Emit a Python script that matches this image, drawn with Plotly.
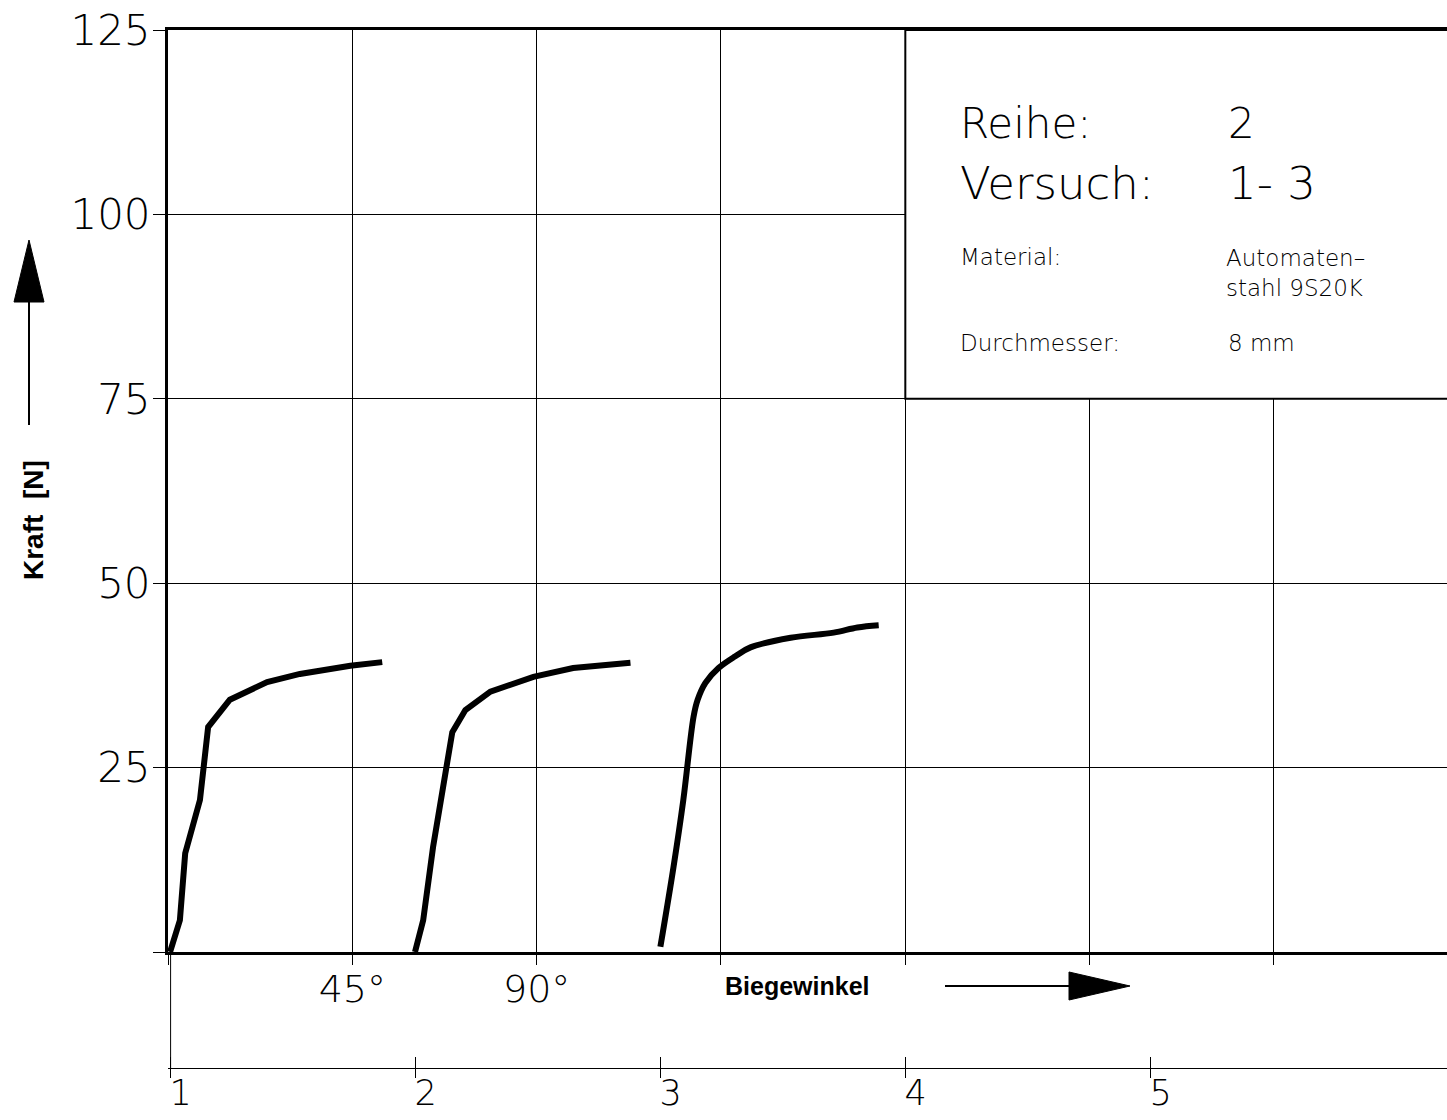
import plotly.graph_objects as go

# ---------------- data ----------------
# Bending angle [deg] and force [N] for the three tests
c1_angle = [0.5, 2.9, 4.2, 7.8, 9.8, 15.1, 24.2, 32.2, 44.5, 52.3]
c1_force = [0.0, 4.3, 13.4, 20.6, 30.5, 34.2, 36.6, 37.7, 38.8, 39.3]

c2_angle = [60.3, 62.3, 64.7, 67.2, 69.4, 72.6, 78.7, 89.2, 98.9, 112.9]
c2_force = [0.0, 4.3, 14.2, 22.0, 29.8, 32.8, 35.3, 37.3, 38.5, 39.2]

c3_angle = [120.2, 123.4, 125.8, 128.3, 129.3, 131.2, 134.4, 138.5, 142.2, 152.0, 162.5, 168.3, 173.5]
c3_force = [0.7, 11.5, 20.6, 31.9, 34.2, 36.5, 38.5, 40.1, 41.3, 42.6, 43.3, 44.0, 44.3]

angle_ticks = [0, 45, 90, 135, 180, 225, 270]
angle_labels = ["", "45°", "90°", "", "", "", ""]
force_ticks = [0, 25, 50, 75, 100, 125]
force_labels = ["", "25", "50", "75", "100", "125"]
test_ticks = [1, 2, 3, 4, 5]
test_labels = ["1", "2", "3", "4", "5"]

info_labels = ["Reihe:", "Versuch:", "Material:", "Durchmesser:"]
info_values = ["2", "1- 3", "Automaten–<br>stahl 9S20K", "8 mm"]

# ---------------- layout geometry ----------------
W, H = 1447, 1120
ML, MR, MT, MB = 168, 0, 30, 52
PW, PH = W - ML - MR, H - MT - MB


def px(x):
    return (x - ML) / PW


def py(y):
    return (H - MB - y) / PH


y_dom0 = py(952)
thin = "DejaVu Sans"
fw = 200

fig = go.Figure()
for xs, ys, shape in [(c1_angle, c1_force, "linear"),
                      (c2_angle, c2_force, "linear"),
                      (c3_angle, c3_force, "spline")]:
    fig.add_trace(go.Scatter(x=xs, y=ys, mode="lines",
                             line=dict(color="black", width=6, shape=shape),
                             showlegend=False, hoverinfo="skip"))
# anchor traces for the second (test number) axis and its lower tick marks
fig.add_trace(go.Scatter(x=[None], y=[None], xaxis="x2", yaxis="y",
                         mode="lines", showlegend=False, hoverinfo="skip"))
fig.add_trace(go.Scatter(x=[None], y=[None], xaxis="x3", yaxis="y",
                         mode="lines", showlegend=False, hoverinfo="skip"))

xr = [0, (W - ML) / 184.33 * 45]
x2r = [1 + (ML - 170.6) / 245.0, 1 + (W - 170.6) / 245.0]

fig.update_layout(
    width=W, height=H,
    margin=dict(l=ML, r=MR, t=MT, b=MB),
    paper_bgcolor="white", plot_bgcolor="white",
    xaxis=dict(range=xr, domain=[0, 1], anchor="y",
               tickmode="array", tickvals=angle_ticks, ticktext=angle_labels,
               showgrid=True, gridcolor="black", gridwidth=1,
               showline=True, linecolor="black", linewidth=2.5, mirror=True,
               ticks="outside", ticklen=10, tickcolor="black", tickwidth=1,
               ticklabelstandoff=-8,
               tickfont=dict(family=thin, size=38, color="black", weight=fw),
               zeroline=False, automargin=False),
    yaxis=dict(range=[0, 125], domain=[y_dom0, 1], anchor="x",
               tickmode="array", tickvals=force_ticks, ticktext=force_labels,
               showgrid=True, gridcolor="black", gridwidth=1,
               showline=True, linecolor="black", linewidth=3, mirror=False,
               ticks="outside", ticklen=12, tickcolor="black", tickwidth=1,
               ticklabelstandoff=-6,
               tickfont=dict(family=thin, size=42, color="black", weight=fw),
               zeroline=False, automargin=False),
    xaxis2=dict(range=x2r, overlaying="x", anchor="free", position=0, side="bottom",
                tickmode="array", tickvals=test_ticks, ticktext=test_labels,
                showgrid=False, showline=True, linecolor="black", linewidth=1,
                ticks="inside", ticklen=11, tickcolor="black", tickwidth=1,
                ticklabelshift=10, ticklabelstandoff=-6,
                tickfont=dict(family=thin, size=35, color="black", weight=fw),
                zeroline=False, automargin=False),
    xaxis3=dict(range=x2r, overlaying="x", anchor="free", position=0, side="bottom",
                tickmode="array", tickvals=test_ticks, showticklabels=False,
                showgrid=False, showline=False,
                ticks="outside", ticklen=9, tickcolor="black", tickwidth=1,
                zeroline=False, automargin=False),
)

shapes = []
# info box
shapes.append(dict(type="rect", xref="x", yref="y", x0=180, x1=xr[1] + 5, y0=75, y1=125,
                   fillcolor="white", line=dict(color="black", width=2), layer="above"))
# connector line between angle axis origin and test axis
shapes.append(dict(type="line", xref="x2", yref="paper", x0=1, x1=1, y0=0, y1=y_dom0,
                   line=dict(color="black", width=1)))
# y title arrow
shapes.append(dict(type="line", xref="paper", yref="paper", x0=px(29), x1=px(29),
                   y0=py(425), y1=py(300), line=dict(color="black", width=2)))
shapes.append(dict(type="path", xref="paper", yref="paper",
                   path=f"M {px(14)},{py(302)} L {px(29)},{py(240)} L {px(44)},{py(302)} Z",
                   fillcolor="black", line=dict(color="black", width=1)))
# x title arrow
shapes.append(dict(type="line", xref="paper", yref="paper", x0=px(945), x1=px(1072),
                   y0=py(986), y1=py(986), line=dict(color="black", width=2)))
shapes.append(dict(type="path", xref="paper", yref="paper",
                   path=f"M {px(1069)},{py(972)} L {px(1130)},{py(986)} L {px(1069)},{py(1000)} Z",
                   fillcolor="black", line=dict(color="black", width=1)))
fig.update_layout(shapes=shapes)

ann = []
ann.append(dict(text="<b>Kraft  [N]</b>", xref="paper", yref="paper", x=px(33), y=py(520),
                xanchor="center", yanchor="middle",
                textangle=-90, showarrow=False,
                font=dict(family="Liberation Sans", size=28, color="black")))
ann.append(dict(text="<b>Biegewinkel</b>", xref="paper", yref="paper", x=px(797), y=py(986),
                xanchor="center", yanchor="middle",
                showarrow=False, font=dict(family="Liberation Sans", size=25, color="black")))

rows_y = [123, 183, 257, 343]
rows_size = [42, 45, 23, 23]
for lab, val, yy, sz in zip(info_labels, info_values, rows_y, rows_size):
    ann.append(dict(text=lab, xref="paper", yref="paper", x=px(958), y=py(yy),
                    xanchor="left", yanchor="middle", showarrow=False,
                    font=dict(family=thin, size=sz, color="black", weight=fw)))
for lab, val, yy, sz in zip(info_labels, info_values, rows_y, rows_size):
    if "<br>" in val:
        ann.append(dict(text=val, xref="paper", yref="paper", x=px(1224), y=py(257),
                        xanchor="left", yanchor="top", align="left", showarrow=False,
                        yshift=14,
                        font=dict(family=thin, size=sz, color="black", weight=fw)))
    else:
        ann.append(dict(text=val, xref="paper", yref="paper", x=px(1226), y=py(yy),
                        xanchor="left", yanchor="middle", showarrow=False,
                        font=dict(family=thin, size=sz, color="black", weight=fw)))
fig.update_layout(annotations=ann)

fig.write_html("out.html")
